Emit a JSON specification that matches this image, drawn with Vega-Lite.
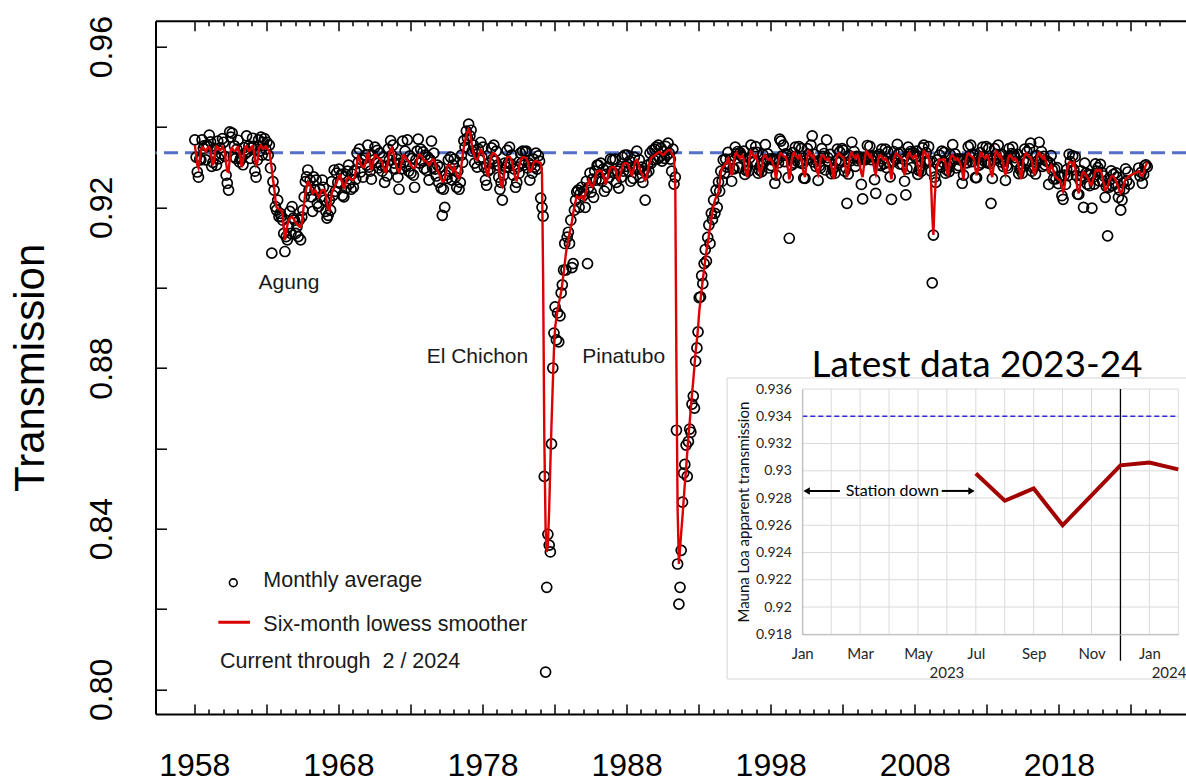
{
"$schema":"https://vega.github.io/schema/vega-lite/v6.json",
"width":1030.5,"height":693.3,
"autosize":{"type":"none"},
"padding":{"left":155.5,"top":20.7,"right":0,"bottom":67},
"background":"white",
"config":{"view":{"stroke":null},"font":"Liberation Sans"},
"datasets":{
"monthly":[
{"t":1958.04,"m":0.9368,"s":0.9355},{"t":1958.13,"m":0.9325,"s":0.933},{"t":1958.21,"m":0.9288,"s":0.9305},{"t":1958.29,"m":0.9275,"s":0.9298},{"t":1958.38,"m":0.932,"s":0.932},{"t":1958.46,"m":0.9318,"s":0.934},{"t":1958.54,"m":0.9368,"s":0.935},{"t":1958.63,"m":0.9347,"s":0.9348},{"t":1958.71,"m":0.9354,"s":0.9345},{"t":1958.79,"m":0.9318,"s":0.9338},{"t":1958.88,"m":0.9354,"s":0.9345},{"t":1958.96,"m":0.9352,"s":0.935},
{"t":1959.04,"m":0.938,"s":0.935},{"t":1959.13,"m":0.9363,"s":0.934},{"t":1959.21,"m":0.9302,"s":0.932},{"t":1959.29,"m":0.9312,"s":0.9305},{"t":1959.38,"m":0.9346,"s":0.9318},{"t":1959.46,"m":0.933,"s":0.934},{"t":1959.54,"m":0.9305,"s":0.9352},{"t":1959.63,"m":0.9365,"s":0.935},{"t":1959.71,"m":0.9321,"s":0.9345},{"t":1959.79,"m":0.9348,"s":0.9342},{"t":1959.88,"m":0.9333,"s":0.9345},{"t":1959.96,"m":0.9371,"s":0.935},
{"t":1960.04,"m":0.9362,"s":0.9345},{"t":1960.13,"m":0.9327,"s":0.9335},{"t":1960.21,"m":0.928,"s":0.931},{"t":1960.29,"m":0.926,"s":0.929},{"t":1960.38,"m":0.9243,"s":0.9288},{"t":1960.46,"m":0.9388,"s":0.932},{"t":1960.54,"m":0.9375,"s":0.9345},{"t":1960.63,"m":0.9385,"s":0.9348},{"t":1960.71,"m":0.9326,"s":0.9342},{"t":1960.79,"m":0.9353,"s":0.934},{"t":1960.88,"m":0.9322,"s":0.9342},{"t":1960.96,"m":0.9345,"s":0.9348},
{"t":1961.04,"m":0.9367,"s":0.935},{"t":1961.13,"m":0.9313,"s":0.9338},{"t":1961.21,"m":0.9321,"s":0.9318},{"t":1961.29,"m":0.9322,"s":0.93},{"t":1961.38,"m":0.9306,"s":0.9315},{"t":1961.46,"m":0.9349,"s":0.9338},{"t":1961.54,"m":0.9334,"s":0.935},{"t":1961.63,"m":0.9378,"s":0.9352},{"t":1961.71,"m":0.9339,"s":0.9345},{"t":1961.79,"m":0.9353,"s":0.934},{"t":1961.88,"m":0.9322,"s":0.9342},{"t":1961.96,"m":0.9349,"s":0.935},
{"t":1962.04,"m":0.9372,"s":0.9352},{"t":1962.13,"m":0.9352,"s":0.934},{"t":1962.21,"m":0.929,"s":0.932},{"t":1962.29,"m":0.9275,"s":0.9305},{"t":1962.38,"m":0.9318,"s":0.9312},{"t":1962.46,"m":0.9368,"s":0.934},{"t":1962.54,"m":0.934,"s":0.9352},{"t":1962.63,"m":0.9375,"s":0.9355},{"t":1962.71,"m":0.933,"s":0.9348},{"t":1962.79,"m":0.9362,"s":0.9345},{"t":1962.88,"m":0.9371,"s":0.935},{"t":1962.96,"m":0.9345,"s":0.9352},
{"t":1963.04,"m":0.9362,"s":0.9348},{"t":1963.13,"m":0.933,"s":0.9343},{"t":1963.21,"m":0.9355,"s":0.934},{"t":1963.29,"m":0.9298,"s":0.932},{"t":1963.38,"m":0.9086,"s":0.9295},{"t":1963.46,"m":0.9264,"s":0.927},{"t":1963.54,"m":0.9243,"s":0.925},{"t":1963.63,"m":0.9202,"s":0.922},{"t":1963.71,"m":0.9193,"s":0.92},{"t":1963.79,"m":0.9218,"s":0.9198},{"t":1963.88,"m":0.9177,"s":0.9195},{"t":1963.96,"m":0.9185,"s":0.9195},
{"t":1964.04,"m":0.9177,"s":0.9193},{"t":1964.13,"m":0.9168,"s":0.918},{"t":1964.21,"m":0.9135,"s":0.915},{"t":1964.29,"m":0.909,"s":0.9119},{"t":1964.38,"m":0.9127,"s":0.914},{"t":1964.46,"m":0.9119,"s":0.9155},{"t":1964.54,"m":0.9152,"s":0.9168},{"t":1964.63,"m":0.919,"s":0.9172},{"t":1964.71,"m":0.9135,"s":0.9175},{"t":1964.79,"m":0.9202,"s":0.9176},{"t":1964.88,"m":0.9173,"s":0.9172},{"t":1964.96,"m":0.9168,"s":0.9166},
{"t":1965.04,"m":0.9135,"s":0.9162},{"t":1965.13,"m":0.9152,"s":0.9158},{"t":1965.21,"m":0.9127,"s":0.9155},{"t":1965.29,"m":0.9168,"s":0.9152},{"t":1965.38,"m":0.9119,"s":0.9151},{"t":1965.46,"m":0.9176,"s":0.916},{"t":1965.54,"m":0.9193,"s":0.9185},{"t":1965.63,"m":0.9226,"s":0.9213},{"t":1965.71,"m":0.9264,"s":0.9235},{"t":1965.79,"m":0.9276,"s":0.925},{"t":1965.88,"m":0.9293,"s":0.9263},{"t":1965.96,"m":0.9243,"s":0.9258},
{"t":1966.04,"m":0.9268,"s":0.9255},{"t":1966.13,"m":0.9226,"s":0.9245},{"t":1966.21,"m":0.919,"s":0.9235},{"t":1966.29,"m":0.9276,"s":0.9238},{"t":1966.38,"m":0.9243,"s":0.9243},{"t":1966.46,"m":0.9268,"s":0.924},{"t":1966.54,"m":0.921,"s":0.9232},{"t":1966.63,"m":0.9202,"s":0.9226},{"t":1966.71,"m":0.9246,"s":0.923},{"t":1966.79,"m":0.9226,"s":0.9238},{"t":1966.88,"m":0.9268,"s":0.9243},{"t":1966.96,"m":0.925,"s":0.9243},
{"t":1967.04,"m":0.9218,"s":0.9243},{"t":1967.13,"m":0.919,"s":0.923},{"t":1967.21,"m":0.9173,"s":0.921},{"t":1967.29,"m":0.918,"s":0.9195},{"t":1967.38,"m":0.9218,"s":0.9193},{"t":1967.46,"m":0.9193,"s":0.921},{"t":1967.54,"m":0.9264,"s":0.9235},{"t":1967.63,"m":0.923,"s":0.9243},{"t":1967.71,"m":0.9293,"s":0.9248},{"t":1967.79,"m":0.924,"s":0.9255},{"t":1967.88,"m":0.9285,"s":0.9262},{"t":1967.96,"m":0.9262,"s":0.927},
{"t":1968.04,"m":0.9295,"s":0.9278},{"t":1968.13,"m":0.926,"s":0.928},{"t":1968.21,"m":0.9282,"s":0.927},{"t":1968.29,"m":0.923,"s":0.9255},{"t":1968.38,"m":0.9226,"s":0.9248},{"t":1968.46,"m":0.9276,"s":0.9255},{"t":1968.54,"m":0.9248,"s":0.9265},{"t":1968.63,"m":0.929,"s":0.9272},{"t":1968.71,"m":0.9305,"s":0.9275},{"t":1968.79,"m":0.926,"s":0.9272},{"t":1968.88,"m":0.9245,"s":0.927},{"t":1968.96,"m":0.9283,"s":0.9268},
{"t":1969.04,"m":0.925,"s":0.9268},{"t":1969.13,"m":0.9292,"s":0.9275},{"t":1969.21,"m":0.927,"s":0.929},{"t":1969.29,"m":0.9335,"s":0.931},{"t":1969.38,"m":0.9312,"s":0.933},{"t":1969.46,"m":0.9345,"s":0.932},{"t":1969.54,"m":0.9288,"s":0.931},{"t":1969.63,"m":0.9318,"s":0.9302},{"t":1969.71,"m":0.9275,"s":0.93},{"t":1969.79,"m":0.9322,"s":0.93},{"t":1969.88,"m":0.933,"s":0.931},{"t":1969.96,"m":0.9305,"s":0.9322},
{"t":1970.04,"m":0.9355,"s":0.9335},{"t":1970.13,"m":0.93,"s":0.9325},{"t":1970.21,"m":0.929,"s":0.9305},{"t":1970.29,"m":0.927,"s":0.9295},{"t":1970.38,"m":0.933,"s":0.9305},{"t":1970.46,"m":0.9318,"s":0.932},{"t":1970.54,"m":0.935,"s":0.933},{"t":1970.63,"m":0.9312,"s":0.933},{"t":1970.71,"m":0.9342,"s":0.9325},{"t":1970.79,"m":0.9298,"s":0.9322},{"t":1970.88,"m":0.9335,"s":0.932},{"t":1970.96,"m":0.9305,"s":0.9318},
{"t":1971.04,"m":0.929,"s":0.931},{"t":1971.13,"m":0.9325,"s":0.93},{"t":1971.21,"m":0.9262,"s":0.929},{"t":1971.29,"m":0.93,"s":0.9288},{"t":1971.38,"m":0.9278,"s":0.93},{"t":1971.46,"m":0.9345,"s":0.932},{"t":1971.54,"m":0.9318,"s":0.9335},{"t":1971.63,"m":0.9366,"s":0.9345},{"t":1971.71,"m":0.933,"s":0.9348},{"t":1971.79,"m":0.9355,"s":0.934},{"t":1971.88,"m":0.931,"s":0.9325},{"t":1971.96,"m":0.9296,"s":0.931},
{"t":1972.04,"m":0.932,"s":0.93},{"t":1972.13,"m":0.9275,"s":0.9292},{"t":1972.21,"m":0.9245,"s":0.9288},{"t":1972.29,"m":0.931,"s":0.9295},{"t":1972.38,"m":0.9296,"s":0.931},{"t":1972.46,"m":0.9365,"s":0.9325},{"t":1972.54,"m":0.9312,"s":0.933},{"t":1972.63,"m":0.934,"s":0.9325},{"t":1972.71,"m":0.9302,"s":0.932},{"t":1972.79,"m":0.9368,"s":0.9318},{"t":1972.88,"m":0.929,"s":0.9315},{"t":1972.96,"m":0.9328,"s":0.931},
{"t":1973.04,"m":0.9285,"s":0.9305},{"t":1973.13,"m":0.9322,"s":0.93},{"t":1973.21,"m":0.928,"s":0.9298},{"t":1973.29,"m":0.925,"s":0.9298},{"t":1973.38,"m":0.9318,"s":0.9305},{"t":1973.46,"m":0.934,"s":0.9318},{"t":1973.54,"m":0.937,"s":0.9328},{"t":1973.63,"m":0.931,"s":0.9332},{"t":1973.71,"m":0.9345,"s":0.933},{"t":1973.79,"m":0.9316,"s":0.9326},{"t":1973.88,"m":0.9338,"s":0.932},{"t":1973.96,"m":0.9297,"s":0.9315},
{"t":1974.04,"m":0.933,"s":0.9316},{"t":1974.13,"m":0.9292,"s":0.9314},{"t":1974.21,"m":0.9325,"s":0.931},{"t":1974.29,"m":0.9268,"s":0.9305},{"t":1974.38,"m":0.9318,"s":0.9308},{"t":1974.46,"m":0.9365,"s":0.9315},{"t":1974.54,"m":0.9298,"s":0.932},{"t":1974.63,"m":0.9335,"s":0.9318},{"t":1974.71,"m":0.9295,"s":0.931},{"t":1974.79,"m":0.9278,"s":0.93},{"t":1974.88,"m":0.9305,"s":0.929},{"t":1974.96,"m":0.9262,"s":0.9285},
{"t":1975.04,"m":0.93,"s":0.928},{"t":1975.13,"m":0.9248,"s":0.9272},{"t":1975.21,"m":0.918,"s":0.9266},{"t":1975.29,"m":0.9245,"s":0.9264},{"t":1975.38,"m":0.92,"s":0.927},{"t":1975.46,"m":0.928,"s":0.9285},{"t":1975.54,"m":0.9272,"s":0.93},{"t":1975.63,"m":0.9318,"s":0.9305},{"t":1975.71,"m":0.929,"s":0.9305},{"t":1975.79,"m":0.9325,"s":0.93},{"t":1975.88,"m":0.9268,"s":0.9295},{"t":1975.96,"m":0.9305,"s":0.929},
{"t":1976.04,"m":0.932,"s":0.93},{"t":1976.13,"m":0.9275,"s":0.929},{"t":1976.21,"m":0.925,"s":0.928},{"t":1976.29,"m":0.929,"s":0.9275},{"t":1976.38,"m":0.9245,"s":0.9272},{"t":1976.46,"m":0.9262,"s":0.9285},{"t":1976.54,"m":0.933,"s":0.9305},{"t":1976.63,"m":0.9312,"s":0.933},{"t":1976.71,"m":0.9366,"s":0.935},{"t":1976.79,"m":0.935,"s":0.9365},{"t":1976.88,"m":0.939,"s":0.9378},{"t":1976.96,"m":0.9372,"s":0.9388},
{"t":1977.04,"m":0.9407,"s":0.9393},{"t":1977.13,"m":0.9378,"s":0.9385},{"t":1977.21,"m":0.9392,"s":0.937},{"t":1977.29,"m":0.934,"s":0.935},{"t":1977.38,"m":0.9355,"s":0.9335},{"t":1977.46,"m":0.931,"s":0.9325},{"t":1977.54,"m":0.9342,"s":0.932},{"t":1977.63,"m":0.93,"s":0.9318},{"t":1977.71,"m":0.9345,"s":0.9325},{"t":1977.79,"m":0.9318,"s":0.9335},{"t":1977.88,"m":0.9362,"s":0.9343},{"t":1977.96,"m":0.9325,"s":0.934},
{"t":1978.04,"m":0.935,"s":0.9335},{"t":1978.13,"m":0.93,"s":0.932},{"t":1978.21,"m":0.9268,"s":0.93},{"t":1978.29,"m":0.9255,"s":0.9285},{"t":1978.38,"m":0.929,"s":0.928},{"t":1978.46,"m":0.931,"s":0.9295},{"t":1978.54,"m":0.9295,"s":0.9315},{"t":1978.63,"m":0.9348,"s":0.933},{"t":1978.71,"m":0.932,"s":0.9335},{"t":1978.79,"m":0.9355,"s":0.9335},{"t":1978.88,"m":0.9315,"s":0.9332},{"t":1978.96,"m":0.934,"s":0.9328},
{"t":1979.04,"m":0.9305,"s":0.9322},{"t":1979.13,"m":0.9275,"s":0.93},{"t":1979.21,"m":0.9245,"s":0.9275},{"t":1979.29,"m":0.9262,"s":0.9255},{"t":1979.38,"m":0.9218,"s":0.9251},{"t":1979.46,"m":0.928,"s":0.927},{"t":1979.54,"m":0.931,"s":0.9295},{"t":1979.63,"m":0.93,"s":0.9315},{"t":1979.71,"m":0.9342,"s":0.9325},{"t":1979.79,"m":0.931,"s":0.9326},{"t":1979.88,"m":0.935,"s":0.9326},{"t":1979.96,"m":0.9308,"s":0.9322},
{"t":1980.04,"m":0.933,"s":0.9315},{"t":1980.13,"m":0.928,"s":0.93},{"t":1980.21,"m":0.9295,"s":0.9285},{"t":1980.29,"m":0.925,"s":0.9272},{"t":1980.38,"m":0.9262,"s":0.9268},{"t":1980.46,"m":0.93,"s":0.928},{"t":1980.54,"m":0.9285,"s":0.93},{"t":1980.63,"m":0.9335,"s":0.9315},{"t":1980.71,"m":0.931,"s":0.9322},{"t":1980.79,"m":0.934,"s":0.9325},{"t":1980.88,"m":0.9305,"s":0.9325},{"t":1980.96,"m":0.9338,"s":0.9323},
{"t":1981.04,"m":0.934,"s":0.9322},{"t":1981.13,"m":0.9298,"s":0.9315},{"t":1981.21,"m":0.931,"s":0.93},{"t":1981.29,"m":0.9268,"s":0.9289},{"t":1981.38,"m":0.9305,"s":0.929},{"t":1981.46,"m":0.9285,"s":0.93},{"t":1981.54,"m":0.932,"s":0.931},{"t":1981.63,"m":0.93,"s":0.9315},{"t":1981.71,"m":0.9335,"s":0.9316},{"t":1981.79,"m":0.9295,"s":0.9314},{"t":1981.88,"m":0.9328,"s":0.9312},{"t":1981.96,"m":0.9315,"s":0.9311},
{"t":1982.04,"m":0.9223,"s":0.931},{"t":1982.13,"m":0.92,"s":0.9285},{"t":1982.21,"m":0.9178,"s":0.902},{"t":1982.29,"m":0.853,"s":0.863},{"t":1982.38,"m":0.8043,"s":0.84},{"t":1982.46,"m":0.8254,"s":0.8342},{"t":1982.54,"m":0.8386,"s":0.836},{"t":1982.63,"m":0.8359,"s":0.845},{"t":1982.71,"m":0.8342,"s":0.856},{"t":1982.79,"m":0.8611,"s":0.866},{"t":1982.88,"m":0.88,"s":0.876},{"t":1982.96,"m":0.8887,"s":0.8845},
{"t":1983.04,"m":0.8952,"s":0.89},{"t":1983.13,"m":0.887,"s":0.8925},{"t":1983.21,"m":0.8937,"s":0.8945},{"t":1983.29,"m":0.8865,"s":0.896},{"t":1983.38,"m":0.893,"s":0.8975},{"t":1983.46,"m":0.8987,"s":0.899},{"t":1983.54,"m":0.9007,"s":0.901},{"t":1983.63,"m":0.9044,"s":0.9035},{"t":1983.71,"m":0.911,"s":0.906},{"t":1983.79,"m":0.9044,"s":0.9085},{"t":1983.88,"m":0.9126,"s":0.9105},{"t":1983.96,"m":0.9138,"s":0.9119},
{"t":1984.04,"m":0.911,"s":0.9135},{"t":1984.13,"m":0.9168,"s":0.915},{"t":1984.21,"m":0.905,"s":0.9165},{"t":1984.29,"m":0.906,"s":0.9185},{"t":1984.38,"m":0.9193,"s":0.9202},{"t":1984.46,"m":0.9218,"s":0.9215},{"t":1984.54,"m":0.9238,"s":0.9227},{"t":1984.63,"m":0.9243,"s":0.9225},{"t":1984.71,"m":0.92,"s":0.9222},{"t":1984.79,"m":0.9235,"s":0.9225},{"t":1984.88,"m":0.925,"s":0.9228},{"t":1984.96,"m":0.9228,"s":0.9222},
{"t":1985.04,"m":0.924,"s":0.9218},{"t":1985.13,"m":0.92,"s":0.923},{"t":1985.21,"m":0.9265,"s":0.9245},{"t":1985.29,"m":0.906,"s":0.926},{"t":1985.38,"m":0.925,"s":0.9268},{"t":1985.46,"m":0.9285,"s":0.9262},{"t":1985.54,"m":0.9238,"s":0.9255},{"t":1985.63,"m":0.927,"s":0.9251},{"t":1985.71,"m":0.9225,"s":0.9258},{"t":1985.79,"m":0.929,"s":0.927},{"t":1985.88,"m":0.9268,"s":0.9282},{"t":1985.96,"m":0.9305,"s":0.929},
{"t":1986.04,"m":0.9305,"s":0.929},{"t":1986.13,"m":0.927,"s":0.9292},{"t":1986.21,"m":0.931,"s":0.929},{"t":1986.29,"m":0.9265,"s":0.9289},{"t":1986.38,"m":0.9295,"s":0.928},{"t":1986.46,"m":0.924,"s":0.9268},{"t":1986.54,"m":0.9282,"s":0.926},{"t":1986.63,"m":0.925,"s":0.9265},{"t":1986.71,"m":0.93,"s":0.9278},{"t":1986.79,"m":0.9275,"s":0.929},{"t":1986.88,"m":0.932,"s":0.9298},{"t":1986.96,"m":0.929,"s":0.93},
{"t":1987.04,"m":0.9318,"s":0.93},{"t":1987.13,"m":0.9285,"s":0.93},{"t":1987.21,"m":0.932,"s":0.9298},{"t":1987.29,"m":0.9262,"s":0.9285},{"t":1987.38,"m":0.929,"s":0.9272},{"t":1987.46,"m":0.9248,"s":0.9268},{"t":1987.54,"m":0.9295,"s":0.9275},{"t":1987.63,"m":0.9275,"s":0.929},{"t":1987.71,"m":0.9325,"s":0.9302},{"t":1987.79,"m":0.929,"s":0.9308},{"t":1987.88,"m":0.933,"s":0.931},{"t":1987.96,"m":0.9302,"s":0.931},
{"t":1988.04,"m":0.933,"s":0.931},{"t":1988.13,"m":0.929,"s":0.9305},{"t":1988.21,"m":0.9315,"s":0.9295},{"t":1988.29,"m":0.9265,"s":0.9285},{"t":1988.38,"m":0.93,"s":0.928},{"t":1988.46,"m":0.9272,"s":0.929},{"t":1988.54,"m":0.9325,"s":0.9305},{"t":1988.63,"m":0.93,"s":0.9315},{"t":1988.71,"m":0.934,"s":0.9318},{"t":1988.79,"m":0.9295,"s":0.9312},{"t":1988.88,"m":0.9318,"s":0.93},{"t":1988.96,"m":0.9275,"s":0.929},
{"t":1989.04,"m":0.93,"s":0.9285},{"t":1989.13,"m":0.9262,"s":0.9278},{"t":1989.21,"m":0.929,"s":0.9272},{"t":1989.29,"m":0.9218,"s":0.9268},{"t":1989.38,"m":0.9285,"s":0.9275},{"t":1989.46,"m":0.9305,"s":0.929},{"t":1989.54,"m":0.929,"s":0.9305},{"t":1989.63,"m":0.9335,"s":0.9315},{"t":1989.71,"m":0.931,"s":0.9322},{"t":1989.79,"m":0.9342,"s":0.9326},{"t":1989.88,"m":0.9318,"s":0.9328},{"t":1989.96,"m":0.9345,"s":0.933},
{"t":1990.04,"m":0.935,"s":0.9332},{"t":1990.13,"m":0.932,"s":0.9335},{"t":1990.21,"m":0.9355,"s":0.9337},{"t":1990.29,"m":0.9325,"s":0.9338},{"t":1990.38,"m":0.9348,"s":0.9335},{"t":1990.46,"m":0.9315,"s":0.9332},{"t":1990.54,"m":0.934,"s":0.933},{"t":1990.63,"m":0.9322,"s":0.9333},{"t":1990.71,"m":0.9352,"s":0.9337},{"t":1990.79,"m":0.933,"s":0.934},{"t":1990.88,"m":0.936,"s":0.9342},{"t":1990.96,"m":0.9335,"s":0.9343},
{"t":1991.04,"m":0.932,"s":0.9343},{"t":1991.13,"m":0.929,"s":0.9335},{"t":1991.21,"m":0.9345,"s":0.933},{"t":1991.29,"m":0.9258,"s":0.9326},{"t":1991.38,"m":0.9275,"s":0.925},{"t":1991.46,"m":0.8645,"s":0.88},{"t":1991.54,"m":0.8312,"s":0.845},{"t":1991.63,"m":0.8212,"s":0.8312},{"t":1991.71,"m":0.8254,"s":0.835},{"t":1991.79,"m":0.8346,"s":0.839},{"t":1991.88,"m":0.8466,"s":0.843},{"t":1991.96,"m":0.8538,"s":0.847},
{"t":1992.04,"m":0.856,"s":0.851},{"t":1992.13,"m":0.8608,"s":0.855},{"t":1992.21,"m":0.853,"s":0.859},{"t":1992.29,"m":0.8617,"s":0.863},{"t":1992.38,"m":0.8648,"s":0.8665},{"t":1992.46,"m":0.864,"s":0.87},{"t":1992.54,"m":0.871,"s":0.8735},{"t":1992.63,"m":0.873,"s":0.877},{"t":1992.71,"m":0.87,"s":0.8805},{"t":1992.79,"m":0.8817,"s":0.884},{"t":1992.88,"m":0.885,"s":0.887},{"t":1992.96,"m":0.889,"s":0.89},
{"t":1993.04,"m":0.8975,"s":0.894},{"t":1993.13,"m":0.8977,"s":0.8969},{"t":1993.21,"m":0.903,"s":0.8995},{"t":1993.29,"m":0.901,"s":0.902},{"t":1993.38,"m":0.906,"s":0.9045},{"t":1993.46,"m":0.9095,"s":0.907},{"t":1993.54,"m":0.9066,"s":0.909},{"t":1993.63,"m":0.9125,"s":0.911},{"t":1993.71,"m":0.9156,"s":0.913},{"t":1993.79,"m":0.911,"s":0.915},{"t":1993.88,"m":0.9185,"s":0.917},{"t":1993.96,"m":0.917,"s":0.919},
{"t":1994.04,"m":0.9218,"s":0.9205},{"t":1994.13,"m":0.9185,"s":0.9218},{"t":1994.21,"m":0.9243,"s":0.9225},{"t":1994.29,"m":0.92,"s":0.923},{"t":1994.38,"m":0.9263,"s":0.924},{"t":1994.46,"m":0.924,"s":0.926},{"t":1994.54,"m":0.929,"s":0.9285},{"t":1994.63,"m":0.9265,"s":0.93},{"t":1994.71,"m":0.9318,"s":0.93},{"t":1994.79,"m":0.9285,"s":0.9305},{"t":1994.88,"m":0.932,"s":0.931},{"t":1994.96,"m":0.93,"s":0.931},
{"t":1995.04,"m":0.9337,"s":0.9325},{"t":1995.13,"m":0.9307,"s":0.9315},{"t":1995.21,"m":0.932,"s":0.9295},{"t":1995.29,"m":0.9265,"s":0.928},{"t":1995.38,"m":0.9297,"s":0.9292},{"t":1995.46,"m":0.9296,"s":0.9318},{"t":1995.54,"m":0.935,"s":0.9332},{"t":1995.63,"m":0.9333,"s":0.9336},{"t":1995.71,"m":0.9339,"s":0.933},{"t":1995.79,"m":0.9299,"s":0.9326},{"t":1995.88,"m":0.9336,"s":0.9322},{"t":1995.96,"m":0.933,"s":0.9328},
{"t":1996.04,"m":0.9325,"s":0.933},{"t":1996.13,"m":0.934,"s":0.932},{"t":1996.21,"m":0.9282,"s":0.93},{"t":1996.29,"m":0.9292,"s":0.9285},{"t":1996.38,"m":0.9303,"s":0.9275},{"t":1996.46,"m":0.929,"s":0.93},{"t":1996.54,"m":0.9323,"s":0.9325},{"t":1996.63,"m":0.9355,"s":0.934},{"t":1996.71,"m":0.9314,"s":0.9338},{"t":1996.79,"m":0.9336,"s":0.933},{"t":1996.88,"m":0.9313,"s":0.9325},{"t":1996.96,"m":0.9351,"s":0.933},
{"t":1997.04,"m":0.9337,"s":0.932},{"t":1997.13,"m":0.9285,"s":0.931},{"t":1997.21,"m":0.9293,"s":0.929},{"t":1997.29,"m":0.9304,"s":0.9282},{"t":1997.38,"m":0.9289,"s":0.9298},{"t":1997.46,"m":0.9331,"s":0.932},{"t":1997.54,"m":0.9312,"s":0.9328},{"t":1997.63,"m":0.9356,"s":0.933},{"t":1997.71,"m":0.9319,"s":0.9325},{"t":1997.79,"m":0.9333,"s":0.932},{"t":1997.88,"m":0.9298,"s":0.9318},{"t":1997.96,"m":0.9321,"s":0.9322},
{"t":1998.04,"m":0.9304,"s":0.9318},{"t":1998.13,"m":0.9318,"s":0.9312},{"t":1998.21,"m":0.9321,"s":0.9302},{"t":1998.29,"m":0.926,"s":0.9288},{"t":1998.38,"m":0.928,"s":0.927},{"t":1998.46,"m":0.9319,"s":0.9295},{"t":1998.54,"m":0.9311,"s":0.9318},{"t":1998.63,"m":0.937,"s":0.933},{"t":1998.71,"m":0.9365,"s":0.9335},{"t":1998.79,"m":0.9328,"s":0.9332},{"t":1998.88,"m":0.9355,"s":0.9328},{"t":1998.96,"m":0.9314,"s":0.9325},
{"t":1999.04,"m":0.9333,"s":0.9325},{"t":1999.13,"m":0.933,"s":0.9315},{"t":1999.21,"m":0.9274,"s":0.9292},{"t":1999.29,"m":0.9123,"s":0.927},{"t":1999.38,"m":0.9322,"s":0.9285},{"t":1999.46,"m":0.9305,"s":0.9318},{"t":1999.54,"m":0.9336,"s":0.9332},{"t":1999.63,"m":0.931,"s":0.9336},{"t":1999.71,"m":0.935,"s":0.933},{"t":1999.79,"m":0.9327,"s":0.9326},{"t":1999.88,"m":0.9313,"s":0.9322},{"t":1999.96,"m":0.9351,"s":0.9328},
{"t":2000.04,"m":0.9311,"s":0.933},{"t":2000.13,"m":0.9346,"s":0.932},{"t":2000.21,"m":0.9309,"s":0.93},{"t":2000.29,"m":0.9273,"s":0.9285},{"t":2000.38,"m":0.9272,"s":0.9275},{"t":2000.46,"m":0.9318,"s":0.93},{"t":2000.54,"m":0.9346,"s":0.9325},{"t":2000.63,"m":0.9332,"s":0.934},{"t":2000.71,"m":0.9323,"s":0.9338},{"t":2000.79,"m":0.9355,"s":0.933},{"t":2000.88,"m":0.9378,"s":0.9325},{"t":2000.96,"m":0.9313,"s":0.933},
{"t":2001.04,"m":0.9332,"s":0.932},{"t":2001.13,"m":0.9302,"s":0.931},{"t":2001.21,"m":0.9315,"s":0.929},{"t":2001.29,"m":0.9267,"s":0.9282},{"t":2001.38,"m":0.9303,"s":0.9298},{"t":2001.46,"m":0.9298,"s":0.932},{"t":2001.54,"m":0.9346,"s":0.9328},{"t":2001.63,"m":0.9327,"s":0.933},{"t":2001.71,"m":0.9334,"s":0.9325},{"t":2001.79,"m":0.9293,"s":0.932},{"t":2001.88,"m":0.9368,"s":0.9318},{"t":2001.96,"m":0.9324,"s":0.9322},
{"t":2002.04,"m":0.9313,"s":0.9318},{"t":2002.13,"m":0.9332,"s":0.9312},{"t":2002.21,"m":0.9284,"s":0.9302},{"t":2002.29,"m":0.9295,"s":0.9288},{"t":2002.38,"m":0.9298,"s":0.927},{"t":2002.46,"m":0.9285,"s":0.9295},{"t":2002.54,"m":0.9316,"s":0.9318},{"t":2002.63,"m":0.9345,"s":0.933},{"t":2002.71,"m":0.9311,"s":0.9335},{"t":2002.79,"m":0.9338,"s":0.9332},{"t":2002.88,"m":0.9316,"s":0.9328},{"t":2002.96,"m":0.9346,"s":0.9325},
{"t":2003.04,"m":0.9342,"s":0.9325},{"t":2003.13,"m":0.929,"s":0.9315},{"t":2003.21,"m":0.9298,"s":0.9295},{"t":2003.29,"m":0.921,"s":0.9275},{"t":2003.38,"m":0.9283,"s":0.9292},{"t":2003.46,"m":0.9329,"s":0.9318},{"t":2003.54,"m":0.9316,"s":0.9332},{"t":2003.63,"m":0.9362,"s":0.9336},{"t":2003.71,"m":0.9324,"s":0.933},{"t":2003.79,"m":0.9339,"s":0.9326},{"t":2003.88,"m":0.9302,"s":0.9322},{"t":2003.96,"m":0.9327,"s":0.9328},
{"t":2004.04,"m":0.9316,"s":0.933},{"t":2004.13,"m":0.9326,"s":0.932},{"t":2004.21,"m":0.9319,"s":0.93},{"t":2004.29,"m":0.9257,"s":0.9285},{"t":2004.38,"m":0.9221,"s":0.9275},{"t":2004.46,"m":0.9324,"s":0.93},{"t":2004.54,"m":0.9318,"s":0.9325},{"t":2004.63,"m":0.9321,"s":0.934},{"t":2004.71,"m":0.9354,"s":0.9338},{"t":2004.79,"m":0.9326,"s":0.933},{"t":2004.88,"m":0.9352,"s":0.9325},{"t":2004.96,"m":0.9319,"s":0.933},
{"t":2005.04,"m":0.9328,"s":0.932},{"t":2005.13,"m":0.9325,"s":0.931},{"t":2005.21,"m":0.9269,"s":0.929},{"t":2005.29,"m":0.9235,"s":0.9282},{"t":2005.38,"m":0.9328,"s":0.9298},{"t":2005.46,"m":0.9307,"s":0.932},{"t":2005.54,"m":0.9332,"s":0.9328},{"t":2005.63,"m":0.9304,"s":0.933},{"t":2005.71,"m":0.9345,"s":0.9325},{"t":2005.79,"m":0.9321,"s":0.932},{"t":2005.88,"m":0.9309,"s":0.9318},{"t":2005.96,"m":0.9345,"s":0.9322},
{"t":2006.04,"m":0.9299,"s":0.9318},{"t":2006.13,"m":0.9338,"s":0.9312},{"t":2006.21,"m":0.9311,"s":0.9302},{"t":2006.29,"m":0.9276,"s":0.9288},{"t":2006.38,"m":0.922,"s":0.927},{"t":2006.46,"m":0.9313,"s":0.9295},{"t":2006.54,"m":0.9339,"s":0.9318},{"t":2006.63,"m":0.9322,"s":0.933},{"t":2006.71,"m":0.932,"s":0.9335},{"t":2006.79,"m":0.9357,"s":0.9332},{"t":2006.88,"m":0.9333,"s":0.9328},{"t":2006.96,"m":0.9308,"s":0.9325},
{"t":2007.04,"m":0.9337,"s":0.9325},{"t":2007.13,"m":0.9307,"s":0.9315},{"t":2007.21,"m":0.932,"s":0.9295},{"t":2007.29,"m":0.9265,"s":0.928},{"t":2007.38,"m":0.9231,"s":0.9292},{"t":2007.46,"m":0.9296,"s":0.9318},{"t":2007.54,"m":0.935,"s":0.9332},{"t":2007.63,"m":0.9333,"s":0.9336},{"t":2007.71,"m":0.9339,"s":0.933},{"t":2007.79,"m":0.9299,"s":0.9326},{"t":2007.88,"m":0.9336,"s":0.9322},{"t":2007.96,"m":0.933,"s":0.9328},
{"t":2008.04,"m":0.9325,"s":0.933},{"t":2008.13,"m":0.934,"s":0.932},{"t":2008.21,"m":0.9282,"s":0.93},{"t":2008.29,"m":0.9292,"s":0.9285},{"t":2008.38,"m":0.9303,"s":0.9275},{"t":2008.46,"m":0.929,"s":0.93},{"t":2008.54,"m":0.9348,"s":0.9325},{"t":2008.63,"m":0.9355,"s":0.934},{"t":2008.71,"m":0.9314,"s":0.9338},{"t":2008.79,"m":0.9336,"s":0.933},{"t":2008.88,"m":0.9313,"s":0.9325},{"t":2008.96,"m":0.9351,"s":0.933},
{"t":2009.04,"m":0.9315,"s":0.9305},{"t":2009.13,"m":0.929,"s":0.926},{"t":2009.21,"m":0.9012,"s":0.918},{"t":2009.29,"m":0.9131,"s":0.9131},{"t":2009.38,"m":0.9275,"s":0.922},{"t":2009.46,"m":0.9262,"s":0.927},{"t":2009.54,"m":0.9318,"s":0.93},{"t":2009.63,"m":0.9305,"s":0.9315},{"t":2009.71,"m":0.933,"s":0.932},{"t":2009.79,"m":0.93,"s":0.9318},{"t":2009.88,"m":0.934,"s":0.9318},{"t":2009.96,"m":0.9312,"s":0.932},
{"t":2010.04,"m":0.9337,"s":0.932},{"t":2010.13,"m":0.9285,"s":0.931},{"t":2010.21,"m":0.9293,"s":0.929},{"t":2010.29,"m":0.9304,"s":0.9282},{"t":2010.38,"m":0.9289,"s":0.9298},{"t":2010.46,"m":0.9331,"s":0.932},{"t":2010.54,"m":0.9312,"s":0.9328},{"t":2010.63,"m":0.9356,"s":0.933},{"t":2010.71,"m":0.9319,"s":0.9325},{"t":2010.79,"m":0.9333,"s":0.932},{"t":2010.88,"m":0.9298,"s":0.9318},{"t":2010.96,"m":0.9321,"s":0.9322},
{"t":2011.04,"m":0.9304,"s":0.9318},{"t":2011.13,"m":0.9318,"s":0.9312},{"t":2011.21,"m":0.9321,"s":0.9302},{"t":2011.29,"m":0.926,"s":0.9288},{"t":2011.38,"m":0.928,"s":0.927},{"t":2011.46,"m":0.9319,"s":0.9295},{"t":2011.54,"m":0.9311,"s":0.9318},{"t":2011.63,"m":0.9311,"s":0.933},{"t":2011.71,"m":0.9351,"s":0.9335},{"t":2011.79,"m":0.9328,"s":0.9332},{"t":2011.88,"m":0.9355,"s":0.9328},{"t":2011.96,"m":0.9314,"s":0.9325},
{"t":2012.04,"m":0.9333,"s":0.9325},{"t":2012.13,"m":0.933,"s":0.9315},{"t":2012.21,"m":0.9274,"s":0.9295},{"t":2012.29,"m":0.9274,"s":0.928},{"t":2012.38,"m":0.9322,"s":0.9292},{"t":2012.46,"m":0.9305,"s":0.9318},{"t":2012.54,"m":0.9336,"s":0.9332},{"t":2012.63,"m":0.931,"s":0.9336},{"t":2012.71,"m":0.935,"s":0.933},{"t":2012.79,"m":0.9327,"s":0.9326},{"t":2012.88,"m":0.9313,"s":0.9322},{"t":2012.96,"m":0.9351,"s":0.9328},
{"t":2013.04,"m":0.9311,"s":0.933},{"t":2013.13,"m":0.9346,"s":0.932},{"t":2013.21,"m":0.9309,"s":0.93},{"t":2013.29,"m":0.921,"s":0.9285},{"t":2013.38,"m":0.9272,"s":0.9275},{"t":2013.46,"m":0.9318,"s":0.93},{"t":2013.54,"m":0.9346,"s":0.9325},{"t":2013.63,"m":0.9332,"s":0.934},{"t":2013.71,"m":0.9323,"s":0.9338},{"t":2013.79,"m":0.9355,"s":0.933},{"t":2013.88,"m":0.933,"s":0.9325},{"t":2013.96,"m":0.9313,"s":0.933},
{"t":2014.04,"m":0.9332,"s":0.932},{"t":2014.13,"m":0.9302,"s":0.931},{"t":2014.21,"m":0.9315,"s":0.929},{"t":2014.29,"m":0.9267,"s":0.9282},{"t":2014.38,"m":0.9303,"s":0.9298},{"t":2014.46,"m":0.9298,"s":0.932},{"t":2014.54,"m":0.9346,"s":0.9328},{"t":2014.63,"m":0.9327,"s":0.933},{"t":2014.71,"m":0.9334,"s":0.9325},{"t":2014.79,"m":0.935,"s":0.932},{"t":2014.88,"m":0.9332,"s":0.9318},{"t":2014.96,"m":0.9324,"s":0.9322},
{"t":2015.04,"m":0.9313,"s":0.9318},{"t":2015.13,"m":0.9332,"s":0.9312},{"t":2015.21,"m":0.9284,"s":0.9302},{"t":2015.29,"m":0.9295,"s":0.9288},{"t":2015.38,"m":0.9298,"s":0.927},{"t":2015.46,"m":0.9285,"s":0.9295},{"t":2015.54,"m":0.9316,"s":0.9318},{"t":2015.63,"m":0.9345,"s":0.933},{"t":2015.71,"m":0.9311,"s":0.9335},{"t":2015.79,"m":0.9338,"s":0.9332},{"t":2015.88,"m":0.9316,"s":0.9328},{"t":2015.96,"m":0.9346,"s":0.9325},
{"t":2016.04,"m":0.936,"s":0.9325},{"t":2016.13,"m":0.929,"s":0.9315},{"t":2016.21,"m":0.9298,"s":0.9295},{"t":2016.29,"m":0.9302,"s":0.928},{"t":2016.38,"m":0.9283,"s":0.9292},{"t":2016.46,"m":0.9329,"s":0.9318},{"t":2016.54,"m":0.9316,"s":0.9332},{"t":2016.63,"m":0.9362,"s":0.9336},{"t":2016.71,"m":0.9324,"s":0.933},{"t":2016.79,"m":0.9339,"s":0.9326},{"t":2016.88,"m":0.9302,"s":0.9322},{"t":2016.96,"m":0.9327,"s":0.9328},
{"t":2017.04,"m":0.9306,"s":0.932},{"t":2017.13,"m":0.9316,"s":0.931},{"t":2017.21,"m":0.9314,"s":0.9295},{"t":2017.29,"m":0.9257,"s":0.9285},{"t":2017.38,"m":0.931,"s":0.93},{"t":2017.46,"m":0.9329,"s":0.9305},{"t":2017.54,"m":0.9293,"s":0.93},{"t":2017.63,"m":0.9271,"s":0.929},{"t":2017.71,"m":0.9296,"s":0.928},{"t":2017.79,"m":0.9271,"s":0.9275},{"t":2017.88,"m":0.9299,"s":0.9272},{"t":2017.96,"m":0.9259,"s":0.927},
{"t":2018.04,"m":0.9276,"s":0.9268},{"t":2018.13,"m":0.9277,"s":0.9262},{"t":2018.21,"m":0.9229,"s":0.925},{"t":2018.29,"m":0.922,"s":0.924},{"t":2018.38,"m":0.928,"s":0.925},{"t":2018.46,"m":0.9257,"s":0.927},{"t":2018.54,"m":0.9294,"s":0.929},{"t":2018.63,"m":0.9279,"s":0.9305},{"t":2018.71,"m":0.9332,"s":0.9312},{"t":2018.79,"m":0.9314,"s":0.9313},{"t":2018.88,"m":0.9301,"s":0.931},{"t":2018.96,"m":0.9328,"s":0.9305},
{"t":2019.04,"m":0.9294,"s":0.9313},{"t":2019.13,"m":0.9326,"s":0.93},{"t":2019.21,"m":0.9279,"s":0.927},{"t":2019.29,"m":0.9233,"s":0.9245},{"t":2019.38,"m":0.9232,"s":0.9235},{"t":2019.46,"m":0.9268,"s":0.925},{"t":2019.54,"m":0.9291,"s":0.927},{"t":2019.63,"m":0.9277,"s":0.9285},{"t":2019.71,"m":0.92,"s":0.9288},{"t":2019.79,"m":0.931,"s":0.9285},{"t":2019.88,"m":0.9285,"s":0.928},{"t":2019.96,"m":0.9258,"s":0.9275},
{"t":2020.04,"m":0.9282,"s":0.927},{"t":2020.13,"m":0.9254,"s":0.9262},{"t":2020.21,"m":0.9281,"s":0.9256},{"t":2020.29,"m":0.9198,"s":0.9258},{"t":2020.38,"m":0.9275,"s":0.927},{"t":2020.46,"m":0.9258,"s":0.928},{"t":2020.54,"m":0.9308,"s":0.929},{"t":2020.63,"m":0.929,"s":0.9293},{"t":2020.71,"m":0.9299,"s":0.929},{"t":2020.79,"m":0.9266,"s":0.9293},{"t":2020.88,"m":0.9307,"s":0.9293},{"t":2020.96,"m":0.9287,"s":0.9285},
{"t":2021.04,"m":0.9265,"s":0.927},{"t":2021.13,"m":0.9278,"s":0.9258},{"t":2021.21,"m":0.9225,"s":0.9243},{"t":2021.29,"m":0.9252,"s":0.9245},{"t":2021.38,"m":0.9129,"s":0.925},{"t":2021.46,"m":0.925,"s":0.926},{"t":2021.54,"m":0.9268,"s":0.927},{"t":2021.63,"m":0.9291,"s":0.9276},{"t":2021.71,"m":0.9254,"s":0.9278},{"t":2021.79,"m":0.9282,"s":0.9276},{"t":2021.88,"m":0.926,"s":0.9272},{"t":2021.96,"m":0.9286,"s":0.9265},
{"t":2022.04,"m":0.9275,"s":0.9258},{"t":2022.13,"m":0.9225,"s":0.925},{"t":2022.21,"m":0.9243,"s":0.924},{"t":2022.29,"m":0.9193,"s":0.9235},{"t":2022.38,"m":0.9218,"s":0.924},{"t":2022.46,"m":0.9261,"s":0.925},{"t":2022.54,"m":0.9246,"s":0.9262},{"t":2022.63,"m":0.9296,"s":0.927},{"t":2022.71,"m":0.9266,"s":0.9272},{"t":2022.79,"m":0.9288,"s":0.9275},{"t":2022.88,"m":0.9258,"s":0.9278},
{"t":2023.54,"m":0.9298,"s":0.929},{"t":2023.63,"m":0.9278,"s":0.9285},{"t":2023.71,"m":0.9287,"s":0.928},{"t":2023.79,"m":0.926,"s":0.9278},{"t":2023.88,"m":0.9282,"s":0.9285},{"t":2023.96,"m":0.9304,"s":0.9298},
{"t":2024.04,"m":0.9306,"s":0.9305},{"t":2024.13,"m":0.9301,"s":0.9312}
],
"recent":[{"mi":6,"v":0.9298},{"mi":7,"v":0.9278},{"mi":8,"v":0.9287},{"mi":9,"v":0.926},{"mi":10,"v":0.9282},{"mi":11,"v":0.9304},{"mi":12,"v":0.9306},{"mi":13,"v":0.9301}],
"gridx":[{"g":0},{"g":1},{"g":2},{"g":3},{"g":4},{"g":5},{"g":6},{"g":7},{"g":8},{"g":9},{"g":10},{"g":11},{"g":12},{"g":13}],
"gridy":[{"g":0.918},{"g":0.92},{"g":0.922},{"g":0.924},{"g":0.926},{"g":0.928},{"g":0.93},{"g":0.932},{"g":0.934},{"g":0.936}]
},
"layer":[
{
"resolve":{"axis":{"x":"independent","y":"independent"}},
"layer":[
{"data":{"values":[{}]},"mark":{"type":"rule","stroke":"#5470c6","strokeWidth":3,"strokeDash":[14,7]},
 "encoding":{"y":{"datum":0.9336,"type":"quantitative","axis":null}}},
{"data":{"name":"monthly"},
 "mark":{"type":"point","shape":"circle","filled":false,"stroke":"black","strokeWidth":1.7,"size":100,"opacity":1},
 "encoding":{
  "x":{"field":"t","type":"quantitative","scale":{"domain":[1955.31,2026.82],"nice":false,"zero":false},
   "axis":{"orient":"bottom","values":[1958,1959,1960,1961,1962,1963,1964,1965,1966,1967,1968,1969,1970,1971,1972,1973,1974,1975,1976,1977,1978,1979,1980,1981,1982,1983,1984,1985,1986,1987,1988,1989,1990,1991,1992,1993,1994,1995,1996,1997,1998,1999,2000,2001,2002,2003,2004,2005,2006,2007,2008,2009,2010,2011,2012,2013,2014,2015,2016,2017,2018,2019,2020,2021,2022,2023,2024,2025],
    "title":null,"grid":false,"domain":true,"domainColor":"black","domainWidth":2,"ticks":true,"tickColor":"black","tickWidth":1.5,
    "tickSize":{"condition":{"test":"(datum.value - 1958) % 5 === 0","value":-10},"value":-5},
    "labelExpr":"(datum.value - 1958) % 10 === 0 ? '' + datum.value : ''",
    "labelFont":"Liberation Sans","labelFontSize":32,"labelColor":"black","labelBaseline":"alphabetic","labelPadding":71,"labelFlush":false,"labelOverlap":false,"labelBound":false}},
  "y":{"field":"m","type":"quantitative","scale":{"domain":[0.79385,0.96647],"nice":false,"zero":false},
   "axis":{"orient":"left","values":[0.8,0.82,0.84,0.86,0.88,0.9,0.92,0.94,0.96],
    "grid":false,"domain":true,"domainColor":"black","domainWidth":2,"ticks":true,"tickColor":"black","tickWidth":1.5,"tickSize":-11,
    "labelExpr":"round(datum.value * 100) % 4 === 0 ? format(datum.value, '.2f') : ''",
    "labelFont":"Liberation Sans","labelFontSize":32,"labelColor":"black","labelAngle":270,"labelAlign":"center","labelBaseline":"alphabetic","labelPadding":55,"labelOverlap":false,"labelBound":false,"labelFlush":false,
    "title":"Transmission","titleFont":"Liberation Sans","titleFontSize":42,"titleFontWeight":"normal","titleColor":"black","titleAngle":270,"titleAlign":"center","titleBaseline":"alphabetic","titleX":-112.5}}
 }},
{"data":{"name":"monthly"},
 "mark":{"type":"line","stroke":"#dc0000","strokeWidth":2.4},
 "encoding":{
  "x":{"field":"t","type":"quantitative",
   "axis":{"orient":"top","values":[1958,1959,1960,1961,1962,1963,1964,1965,1966,1967,1968,1969,1970,1971,1972,1973,1974,1975,1976,1977,1978,1979,1980,1981,1982,1983,1984,1985,1986,1987,1988,1989,1990,1991,1992,1993,1994,1995,1996,1997,1998,1999,2000,2001,2002,2003,2004,2005,2006,2007,2008,2009,2010,2011,2012,2013,2014,2015,2016,2017,2018,2019,2020,2021,2022,2023,2024,2025],
    "labels":false,"title":null,"grid":false,"domain":true,"domainColor":"black","domainWidth":2,"ticks":true,"tickColor":"black","tickWidth":1.5,
    "tickSize":{"condition":{"test":"(datum.value - 1958) % 5 === 0","value":-10},"value":-5}}},
  "y":{"field":"s","type":"quantitative","axis":null}
 }},
{"data":{"values":[{}]},"mark":{"type":"text","text":"Agung","font":"Liberation Sans","fontSize":21,"color":"#1a1a1a","align":"center","baseline":"alphabetic"},
 "encoding":{"x":{"datum":1964.57,"type":"quantitative","axis":null},"y":{"datum":0.89959,"type":"quantitative","axis":null}}},
{"data":{"values":[{}]},"mark":{"type":"text","text":"El Chichon","font":"Liberation Sans","fontSize":21,"color":"#1a1a1a","align":"center","baseline":"alphabetic"},
 "encoding":{"x":{"datum":1977.65,"type":"quantitative","axis":null},"y":{"datum":0.88118,"type":"quantitative","axis":null}}},
{"data":{"values":[{}]},"mark":{"type":"text","text":"Pinatubo","font":"Liberation Sans","fontSize":21,"color":"#1a1a1a","align":"center","baseline":"alphabetic"},
 "encoding":{"x":{"datum":1987.8,"type":"quantitative","axis":null},"y":{"datum":0.88118,"type":"quantitative","axis":null}}},
{"data":{"values":[{}]},"mark":{"type":"point","shape":"circle","filled":false,"stroke":"black","strokeWidth":1.6,"size":60,"opacity":1},
 "encoding":{"x":{"datum":1960.71,"type":"quantitative","axis":null},"y":{"datum":0.82653,"type":"quantitative","axis":null}}},
{"data":{"values":[{}]},"mark":{"type":"text","text":"Monthly average","font":"Liberation Sans","fontSize":21.5,"color":"#1a1a1a","align":"left","baseline":"alphabetic"},
 "encoding":{"x":{"datum":1962.79,"type":"quantitative","axis":null},"y":{"datum":0.82539,"type":"quantitative","axis":null}}},
{"data":{"values":[{}]},"mark":{"type":"rule","stroke":"#dc0000","strokeWidth":3},
 "encoding":{"x":{"datum":1959.67,"type":"quantitative","axis":null},"x2":{"datum":1961.87},"y":{"datum":0.81667,"type":"quantitative","axis":null}}},
{"data":{"values":[{}]},"mark":{"type":"text","text":"Six-month lowess smoother","font":"Liberation Sans","fontSize":21.5,"color":"#1a1a1a","align":"left","baseline":"alphabetic"},
 "encoding":{"x":{"datum":1962.79,"type":"quantitative","axis":null},"y":{"datum":0.81458,"type":"quantitative","axis":null}}},
{"data":{"values":[{}]},"mark":{"type":"text","text":"Current through\u00a0 2 / 2024","font":"Liberation Sans","fontSize":21.5,"color":"#1a1a1a","align":"left","baseline":"alphabetic"},
 "encoding":{"x":{"datum":1959.78,"type":"quantitative","axis":null},"y":{"datum":0.80522,"type":"quantitative","axis":null}}}
]
},
{
"resolve":{"axis":{"x":"independent","y":"independent"}},
"layer":[
{"data":{"values":[{}]},"mark":{"type":"rect","fill":"white","stroke":"#d4d4d4","strokeWidth":1},
 "encoding":{"x":{"datum":-2.6,"type":"quantitative","scale":{"domain":[0,13],"range":[646.8,1022.8],"nice":false,"zero":false},"axis":null},"x2":{"datum":13.4},
  "y":{"datum":0.93681,"type":"quantitative","scale":{"domain":[0.918,0.936],"range":[613.6,368.3],"nice":false,"zero":false},"axis":null},"y2":{"datum":0.91472}}},
{"data":{"name":"gridx"},"mark":{"type":"rule","stroke":"#dadada","strokeWidth":1},
 "encoding":{"x":{"field":"g","type":"quantitative","axis":null},"y":{"datum":0.918,"type":"quantitative","axis":null},"y2":{"datum":0.936}}},
{"data":{"name":"gridy"},"mark":{"type":"rule","stroke":"#dadada","strokeWidth":1},
 "encoding":{"y":{"field":"g","type":"quantitative","axis":null},"x":{"datum":0,"type":"quantitative","axis":null},"x2":{"datum":13}}},
{"data":{"values":[{}]},"mark":{"type":"rule","stroke":"#2a2ae0","strokeWidth":1.5,"strokeDash":[5,3]},
 "encoding":{"y":{"datum":0.934,"type":"quantitative","axis":null},"x":{"datum":0,"type":"quantitative","axis":null},"x2":{"datum":13}}},
{"data":{"values":[{}]},"mark":{"type":"rule","stroke":"black","strokeWidth":1.3},
 "encoding":{"x":{"datum":11,"type":"quantitative","axis":null},"y":{"datum":0.91606,"type":"quantitative","axis":null},"y2":{"datum":0.936}}},
{"data":{"name":"recent"},"mark":{"type":"line","stroke":"#a30000","strokeWidth":4},
 "encoding":{
  "x":{"field":"mi","type":"quantitative","scale":{"domain":[0,13],"range":[646.8,1022.8],"nice":false,"zero":false},
   "axis":{"orient":"bottom","offset":-79.7,"values":[0,1,2,3,4,5,6,7,8,9,10,11,12,13],
    "labelExpr":"['Jan','','Mar','','May','','Jul','','Sep','','Nov','','Jan',''][datum.value]",
    "ticks":false,"tickSize":0,"grid":false,"domain":true,"domainColor":"#b4b4b4","domainWidth":1,
    "labelFont":"Lato","labelFontSize":15,"labelColor":"#262626","labelBaseline":"alphabetic","labelPadding":24,"labelFlush":false,"labelOverlap":false,"labelBound":false,"title":null,"zindex":1}},
  "y":{"field":"v","type":"quantitative","scale":{"domain":[0.918,0.936],"range":[613.6,368.3],"nice":false,"zero":false},
   "axis":{"orient":"left","offset":-646.8,"values":[0.918,0.92,0.922,0.924,0.926,0.928,0.93,0.932,0.934,0.936],"format":".3~f",
    "ticks":false,"tickSize":0,"grid":false,"domain":true,"domainColor":"#b4b4b4","domainWidth":1,
    "labelFont":"Lato","labelFontSize":14,"labelColor":"#262626","labelPadding":11,"labelOverlap":false,"labelBound":false,"labelFlush":false,
    "title":"Mauna Loa apparent transmission","titleFont":"Lato","titleFontSize":15,"titleFontWeight":"normal","titleColor":"#111111","titleAngle":270,"titleAlign":"center","titleBaseline":"alphabetic","titleX":-54.3,"zindex":1}}
 }},
{"data":{"values":[{}]},"mark":{"type":"text","text":"Latest data 2023-24","font":"Lato","fontSize":37,"color":"black","align":"center","baseline":"alphabetic"},
 "encoding":{"x":{"datum":6.04,"type":"quantitative","axis":null},"y":{"datum":0.9369,"type":"quantitative","axis":null}}},
{"data":{"values":[{}]},"mark":{"type":"text","text":"Station down","font":"Lato","fontSize":16,"color":"black","align":"left","baseline":"alphabetic"},
 "encoding":{"x":{"datum":1.5,"type":"quantitative","axis":null},"y":{"datum":0.92815,"type":"quantitative","axis":null}}},
{"data":{"values":[{}]},"mark":{"type":"rule","stroke":"black","strokeWidth":2},
 "encoding":{"x":{"datum":0.15,"type":"quantitative","axis":null},"x2":{"datum":1.3},"y":{"datum":0.92852,"type":"quantitative","axis":null}}},
{"data":{"values":[{}]},"mark":{"type":"rule","stroke":"black","strokeWidth":2},
 "encoding":{"x":{"datum":4.82,"type":"quantitative","axis":null},"x2":{"datum":5.85},"y":{"datum":0.92852,"type":"quantitative","axis":null}}},
{"data":{"values":[{}]},"mark":{"type":"point","shape":"triangle-left","filled":true,"fill":"black","stroke":null,"size":55,"opacity":1},
 "encoding":{"x":{"datum":0.15,"type":"quantitative","axis":null},"y":{"datum":0.92852,"type":"quantitative","axis":null}}},
{"data":{"values":[{}]},"mark":{"type":"point","shape":"triangle-right","filled":true,"fill":"black","stroke":null,"size":55,"opacity":1},
 "encoding":{"x":{"datum":5.85,"type":"quantitative","axis":null},"y":{"datum":0.92852,"type":"quantitative","axis":null}}},
{"data":{"values":[{}]},"mark":{"type":"text","text":"2023","font":"Lato","fontSize":15,"color":"#262626","align":"center","baseline":"alphabetic"},
 "encoding":{"x":{"datum":5.0,"type":"quantitative","axis":null},"y":{"datum":0.91477,"type":"quantitative","axis":null}}},
{"data":{"values":[{}]},"mark":{"type":"text","text":"2024","font":"Lato","fontSize":15,"color":"#262626","align":"center","baseline":"alphabetic"},
 "encoding":{"x":{"datum":12.68,"type":"quantitative","axis":null},"y":{"datum":0.91477,"type":"quantitative","axis":null}}}
]
}
],
"resolve":{"scale":{"x":"independent","y":"independent"}}
}
